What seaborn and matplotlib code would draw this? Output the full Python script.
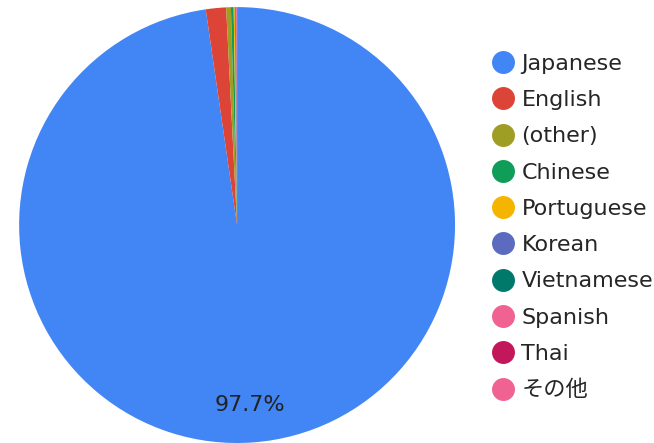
import matplotlib
matplotlib.use("Agg")
import matplotlib.pyplot as plt
from matplotlib.lines import Line2D
import seaborn as sns

# Data
languages = ["Japanese", "English", "(other)", "Chinese", "Portuguese",
             "Korean", "Vietnamese", "Spanish", "Thai", "その他"]
shares = [97.7, 1.5, 0.35, 0.2, 0.08, 0.06, 0.04, 0.03, 0.02, 0.02]
colors = ["#4285F4", "#DB4437", "#9E9D24", "#0F9D58", "#F4B400",
          "#5C6BC0", "#00796B", "#F06292", "#C2185B", "#F06292"]

sns.set_style("white")
plt.rcParams["font.family"] = ["DejaVu Sans", "Noto Sans CJK JP"]

fig = plt.figure(figsize=(6.54, 4.43), dpi=100)
ax = fig.add_axes([0.029, 0.0, 0.667, 0.984])

wedges, texts, autotexts = ax.pie(
    shares, colors=colors, startangle=90, counterclock=False,
    autopct=lambda p: f"{p:.1f}%" if p > 5 else "",
    pctdistance=0.83, wedgeprops=dict(linewidth=0),
    textprops=dict(fontsize=16, color="#222222"))
ax.set_xlim(-1, 1)
ax.set_ylim(-1, 1)
ax.set_aspect("equal")

handles = [Line2D([0], [0], marker="o", linestyle="", markersize=15.5,
                  markerfacecolor=c, markeredgecolor=c) for c in colors]
fig.legend(handles, languages, loc="upper left", bbox_to_anchor=(0.743, 0.878),
           frameon=False, fontsize=16, labelspacing=0.73,
           handletextpad=0.1, handlelength=1.5, borderaxespad=0, borderpad=0)

fig.savefig("out.png", dpi=100)
